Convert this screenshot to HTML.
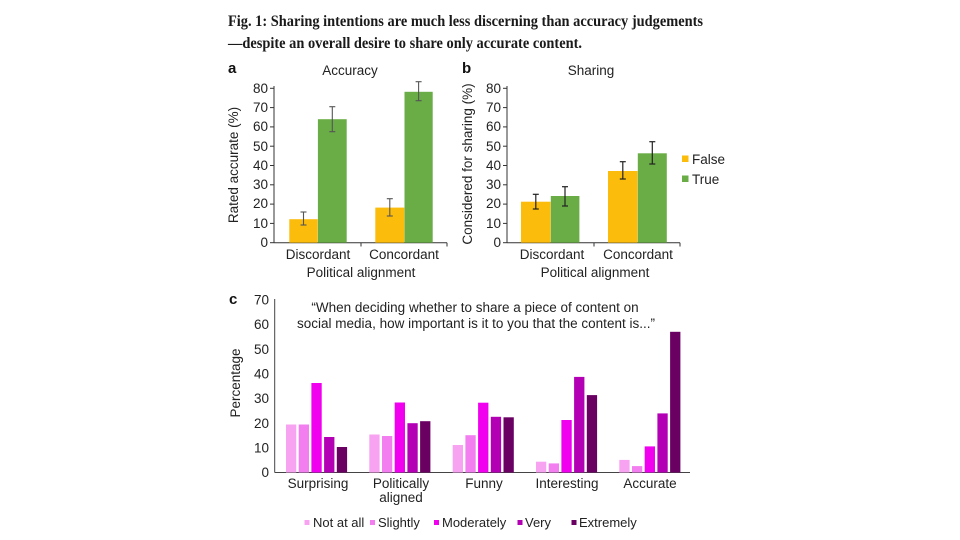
<!DOCTYPE html>
<html>
<head>
<meta charset="utf-8">
<style>
html,body{margin:0;padding:0;background:#fff;}
svg{display:block;}
text{font-family:"Liberation Sans",Arial,sans-serif;fill:#222;}
.t{font-size:13.5px;}
.tt{font-family:"Liberation Serif",serif;font-weight:bold;font-size:16px;fill:#1a1a1a;}
.lab{font-weight:bold;font-size:15px;fill:#111;}
</style>
</head>
<body>
<svg width="960" height="540" viewBox="0 0 960 540" xmlns="http://www.w3.org/2000/svg">
<rect width="960" height="540" fill="#fff"/>

<!-- Title -->
<text class="tt" x="228" y="26" textLength="475" lengthAdjust="spacingAndGlyphs">Fig. 1: Sharing intentions are much less discerning than accuracy judgements</text>
<text class="tt" x="228" y="48" textLength="354" lengthAdjust="spacingAndGlyphs">—despite an overall desire to share only accurate content.</text>

<!-- Panel a -->
<text class="lab" x="228" y="73">a</text>
<text class="t" x="350" y="75" text-anchor="middle">Accuracy</text>
<text class="t" transform="translate(238,165) rotate(-90)" text-anchor="middle">Rated accurate (%)</text>
<g class="t" text-anchor="end">
<text x="268" y="247">0</text>
<text x="268" y="228">10</text>
<text x="268" y="208">20</text>
<text x="268" y="189">30</text>
<text x="268" y="170">40</text>
<text x="268" y="151">50</text>
<text x="268" y="131">60</text>
<text x="268" y="112">70</text>
<text x="268" y="93">80</text>
</g>
<g stroke="#333" stroke-width="1">
<line x1="274" y1="86" x2="274" y2="243"/>
<line x1="274" y1="242.7" x2="447" y2="242.7"/>
<line x1="270" y1="242.7" x2="274" y2="242.7"/>
<line x1="270" y1="223.4" x2="274" y2="223.4"/>
<line x1="270" y1="204.1" x2="274" y2="204.1"/>
<line x1="270" y1="184.8" x2="274" y2="184.8"/>
<line x1="270" y1="165.5" x2="274" y2="165.5"/>
<line x1="270" y1="146.2" x2="274" y2="146.2"/>
<line x1="270" y1="126.9" x2="274" y2="126.9"/>
<line x1="270" y1="107.6" x2="274" y2="107.6"/>
<line x1="270" y1="88.3" x2="274" y2="88.3"/>
<line x1="361" y1="242.7" x2="361" y2="246.5"/>
<line x1="447" y1="242.7" x2="447" y2="246.5"/>
</g>
<!-- bars a : scale 1.93 px/unit, base 242.7 -->
<rect x="289.3" y="219.2" width="28.4" height="23.5" fill="#fbbc0c"/>
<rect x="317.9" y="119.2" width="28.8" height="123.5" fill="#6aad46"/>
<rect x="375.3" y="207.6" width="29" height="35.1" fill="#fbbc0c"/>
<rect x="404.5" y="91.8" width="28.2" height="150.9" fill="#6aad46"/>
<g stroke="#555" stroke-width="1.1">
<line x1="303.5" y1="212" x2="303.5" y2="225"/><line x1="300.5" y1="212" x2="306.5" y2="212"/><line x1="300.5" y1="225" x2="306.5" y2="225"/>
<line x1="332.3" y1="106.7" x2="332.3" y2="131.7"/><line x1="329.3" y1="106.7" x2="335.3" y2="106.7"/><line x1="329.3" y1="131.7" x2="335.3" y2="131.7"/>
<line x1="389.8" y1="198.7" x2="389.8" y2="216"/><line x1="386.8" y1="198.7" x2="392.8" y2="198.7"/><line x1="386.8" y1="216" x2="392.8" y2="216"/>
<line x1="418.6" y1="81.7" x2="418.6" y2="100.7"/><line x1="415.6" y1="81.7" x2="421.6" y2="81.7"/><line x1="415.6" y1="100.7" x2="421.6" y2="100.7"/>
</g>
<text class="t" x="318" y="259" text-anchor="middle">Discordant</text>
<text class="t" x="404" y="259" text-anchor="middle">Concordant</text>
<text class="t" x="361" y="277" text-anchor="middle">Political alignment</text>

<!-- Panel b -->
<text class="lab" x="462" y="73">b</text>
<text class="t" x="591" y="75" text-anchor="middle">Sharing</text>
<text class="t" transform="translate(472,164) rotate(-90)" text-anchor="middle">Considered for sharing (%)</text>
<g class="t" text-anchor="end">
<text x="501" y="247">0</text>
<text x="501" y="228">10</text>
<text x="501" y="208">20</text>
<text x="501" y="189">30</text>
<text x="501" y="170">40</text>
<text x="501" y="151">50</text>
<text x="501" y="131">60</text>
<text x="501" y="112">70</text>
<text x="501" y="93">80</text>
</g>
<g stroke="#333" stroke-width="1">
<line x1="507" y1="86" x2="507" y2="243"/>
<line x1="507" y1="242.7" x2="680" y2="242.7"/>
<line x1="503" y1="242.7" x2="507" y2="242.7"/>
<line x1="503" y1="223.4" x2="507" y2="223.4"/>
<line x1="503" y1="204.1" x2="507" y2="204.1"/>
<line x1="503" y1="184.8" x2="507" y2="184.8"/>
<line x1="503" y1="165.5" x2="507" y2="165.5"/>
<line x1="503" y1="146.2" x2="507" y2="146.2"/>
<line x1="503" y1="126.9" x2="507" y2="126.9"/>
<line x1="503" y1="107.6" x2="507" y2="107.6"/>
<line x1="503" y1="88.3" x2="507" y2="88.3"/>
<line x1="594" y1="242.7" x2="594" y2="246.5"/>
<line x1="680" y1="242.7" x2="680" y2="246.5"/>
</g>
<rect x="521" y="201.7" width="29.6" height="41" fill="#fbbc0c"/>
<rect x="550.8" y="196" width="28.6" height="46.7" fill="#6aad46"/>
<rect x="608" y="171" width="29.6" height="71.7" fill="#fbbc0c"/>
<rect x="637.8" y="153.3" width="29" height="89.4" fill="#6aad46"/>
<g stroke="#222" stroke-width="1.2">
<line x1="535.8" y1="194.3" x2="535.8" y2="209"/><line x1="532.8" y1="194.3" x2="538.8" y2="194.3"/><line x1="532.8" y1="209" x2="538.8" y2="209"/>
<line x1="565" y1="186.7" x2="565" y2="206"/><line x1="562" y1="186.7" x2="568" y2="186.7"/><line x1="562" y1="206" x2="568" y2="206"/>
<line x1="622.8" y1="161.7" x2="622.8" y2="179"/><line x1="619.8" y1="161.7" x2="625.8" y2="161.7"/><line x1="619.8" y1="179" x2="625.8" y2="179"/>
<line x1="652.3" y1="141.7" x2="652.3" y2="164"/><line x1="649.3" y1="141.7" x2="655.3" y2="141.7"/><line x1="649.3" y1="164" x2="655.3" y2="164"/>
</g>
<rect x="682" y="155.5" width="6.5" height="6.5" fill="#fbbc0c"/>
<text class="t" x="692" y="164">False</text>
<rect x="682" y="175.5" width="6.5" height="6.5" fill="#6aad46"/>
<text class="t" x="692" y="184">True</text>
<text class="t" x="552" y="259" text-anchor="middle">Discordant</text>
<text class="t" x="638" y="259" text-anchor="middle">Concordant</text>
<text class="t" x="595" y="277" text-anchor="middle">Political alignment</text>

<!-- Panel c -->
<text class="lab" x="229" y="304">c</text>
<text class="t" transform="translate(240,383) rotate(-90)" text-anchor="middle">Percentage</text>
<g class="t" text-anchor="end">
<text x="269" y="477">0</text>
<text x="269" y="452.5">10</text>
<text x="269" y="428">20</text>
<text x="269" y="403">30</text>
<text x="269" y="378.5">40</text>
<text x="269" y="354">50</text>
<text x="269" y="329">60</text>
<text x="269" y="304.5">70</text>
</g>
<g stroke="#444" stroke-width="1">
<line x1="274.7" y1="299" x2="274.7" y2="472.5"/>
<line x1="274.7" y1="472.5" x2="690" y2="472.5"/>
</g>
<text class="t" x="475" y="312" text-anchor="middle">“When deciding whether to share a piece of content on</text>
<text class="t" x="476" y="328" text-anchor="middle">social media, how important is it to you that the content is...”</text>

<!-- bars c: base 472.5, 2.464 px/unit -->
<g>
<!-- Surprising -->
<rect x="286" y="424.5" width="10.3" height="48" fill="#f7a3f2"/>
<rect x="298.7" y="424.5" width="10.3" height="48" fill="#f27ef0"/>
<rect x="311.4" y="383" width="10.3" height="89.5" fill="#f000ef"/>
<rect x="324.1" y="437" width="10.3" height="35.5" fill="#b300b5"/>
<rect x="336.8" y="447" width="10.3" height="25.5" fill="#6b0063"/>
<!-- Politically aligned -->
<rect x="369.3" y="434.5" width="10.3" height="38" fill="#f7a3f2"/>
<rect x="382" y="436" width="10.3" height="36.5" fill="#f27ef0"/>
<rect x="394.7" y="402.5" width="10.3" height="70" fill="#f000ef"/>
<rect x="407.4" y="423.2" width="10.3" height="49.3" fill="#b300b5"/>
<rect x="420.1" y="421.2" width="10.3" height="51.3" fill="#6b0063"/>
<!-- Funny -->
<rect x="452.7" y="445" width="10.3" height="27.5" fill="#f7a3f2"/>
<rect x="465.4" y="435.2" width="10.3" height="37.3" fill="#f27ef0"/>
<rect x="478.1" y="402.7" width="10.3" height="69.8" fill="#f000ef"/>
<rect x="490.8" y="416.8" width="10.3" height="55.7" fill="#b300b5"/>
<rect x="503.5" y="417.3" width="10.3" height="55.2" fill="#6b0063"/>
<!-- Interesting -->
<rect x="536" y="461.7" width="10.3" height="10.8" fill="#f7a3f2"/>
<rect x="548.7" y="463.4" width="10.3" height="9.1" fill="#f27ef0"/>
<rect x="561.4" y="420" width="10.3" height="52.5" fill="#f000ef"/>
<rect x="574.1" y="376.9" width="10.3" height="95.6" fill="#b300b5"/>
<rect x="586.8" y="395.1" width="10.3" height="77.4" fill="#6b0063"/>
<!-- Accurate -->
<rect x="619.3" y="459.9" width="10.3" height="12.6" fill="#f7a3f2"/>
<rect x="632" y="466.1" width="10.3" height="6.4" fill="#f27ef0"/>
<rect x="644.7" y="446.4" width="10.3" height="26.1" fill="#f000ef"/>
<rect x="657.4" y="413.4" width="10.3" height="59.1" fill="#b300b5"/>
<rect x="670.1" y="331.8" width="10.3" height="140.7" fill="#6b0063"/>
</g>
<text class="t" x="318" y="488" text-anchor="middle">Surprising</text>
<text class="t" x="401" y="488" text-anchor="middle">Politically</text>
<text class="t" x="401" y="502" text-anchor="middle">aligned</text>
<text class="t" x="484" y="488" text-anchor="middle">Funny</text>
<text class="t" x="567" y="488" text-anchor="middle">Interesting</text>
<text class="t" x="650" y="488" text-anchor="middle">Accurate</text>

<!-- legend c -->
<rect x="304.5" y="520" width="5" height="5" fill="#f7a3f2"/>
<text class="t" x="313" y="527" style="font-size:13px">Not at all</text>
<rect x="370" y="520" width="5" height="5" fill="#f27ef0"/>
<text class="t" x="378" y="527" style="font-size:13px">Slightly</text>
<rect x="434" y="520" width="5" height="5" fill="#f000ef"/>
<text class="t" x="442" y="527" style="font-size:13px">Moderately</text>
<rect x="517.5" y="520" width="5" height="5" fill="#b300b5"/>
<text class="t" x="525" y="527" style="font-size:13px">Very</text>
<rect x="571.5" y="520" width="5" height="5" fill="#6b0063"/>
<text class="t" x="579" y="527" style="font-size:13px">Extremely</text>
</svg>
</body>
</html>
